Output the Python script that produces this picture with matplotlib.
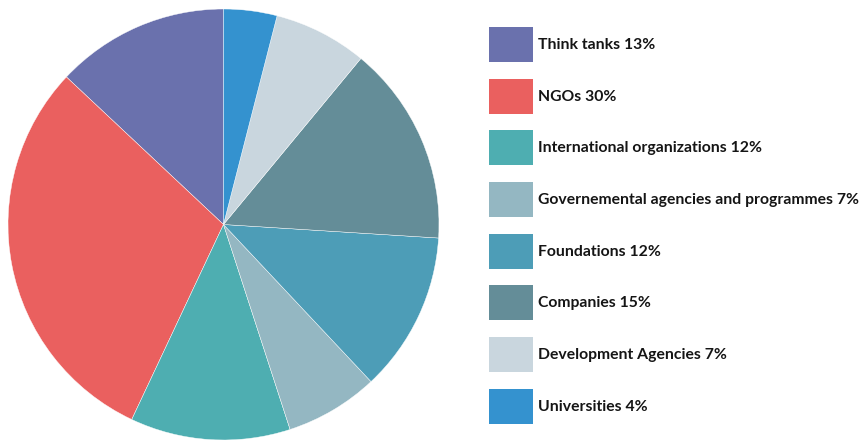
import matplotlib.pyplot as plt
from matplotlib.patches import Rectangle

categories = ['Think tanks', 'NGOs', 'International organizations',
              'Governemental agencies and programmes', 'Foundations',
              'Companies', 'Development Agencies', 'Universities']
shares = [13, 30, 12, 7, 12, 15, 7, 4]
colors = ['#6a71ad', '#ea605f', '#4eaeb1', '#94b7c2', '#4d9db7',
          '#648d98', '#c9d6de', '#3492cf']

W, H = 859, 440
fig = plt.figure(figsize=(W / 100, H / 100), dpi=100)

# pie area in pixels: x 8..439, y 9..440
ax = fig.add_axes([8 / W, 0 / H, 431 / W, 431 / H])
ax.pie(shares, colors=colors, startangle=90, counterclock=True,
       wedgeprops=dict(edgecolor='white', linewidth=0.3))
ax.set_xlim(-1, 1)
ax.set_ylim(-1, 1)
ax.set_aspect('equal')
ax.axis('off')

# legend drawn in pixel coordinates
lg = fig.add_axes([0, 0, 1, 1])
lg.set_xlim(0, W)
lg.set_ylim(H, 0)
lg.axis('off')
for i, (name, val, c) in enumerate(zip(categories, shares, colors)):
    top = 27 + i * 51.7
    lg.add_patch(Rectangle((489, top), 44, 35, facecolor=c, edgecolor='none'))
    lg.text(538, top + 18, f'{name} {val}%', fontsize=11.3, fontweight='bold',
            family='Lato', color='#151515', va='center', ha='left')

fig.savefig('out.png', dpi=100)
